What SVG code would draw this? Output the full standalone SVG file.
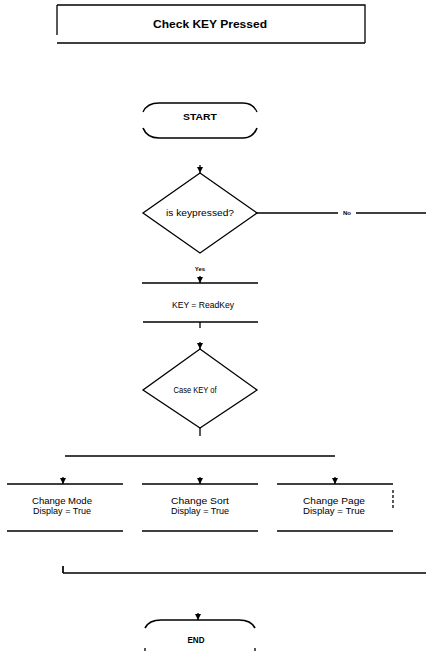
<svg xmlns="http://www.w3.org/2000/svg" width="426" height="651" viewBox="0 0 426 651">
<style>
  .ln{stroke:#000;stroke-width:1.3;fill:none}
  .lb{stroke:#000;stroke-width:1.7;fill:none}
  .t{font-family:"Liberation Sans",Arial,sans-serif;font-size:9px;fill:#000;text-anchor:middle}
  .tb{font-family:"Liberation Sans",Arial,sans-serif;font-weight:bold;fill:#000;text-anchor:middle}
  .s{font-family:"Liberation Sans",Arial,sans-serif;font-size:6px;font-weight:bold;fill:#000;text-anchor:middle}
</style>
<defs>
  <marker id="ah" viewBox="0 0 6 6" refX="6" refY="3" markerWidth="6" markerHeight="6" markerUnits="userSpaceOnUse" orient="auto">
    <path d="M0,0 L6,3 L0,6 Z" fill="#000"/>
  </marker>
</defs>
<rect width="426" height="651" fill="#fff"/>
<g id="title">
  <path class="ln" d="M57,5 L365,5 L365,43 M57,43 L365,43 M57,5 L57,35"/>
  <text class="tb" x="210" y="28" font-size="11" textLength="114" lengthAdjust="spacingAndGlyphs">Check KEY Pressed</text>
</g>
<g id="start">
  <path class="ln" d="M143,112 Q147,103 159,103 L243,103 Q253,103 257,112"/>
  <path class="lb" d="M143,128 Q147,138 159,138 L243,138 Q253,138 257,128"/>
  <text class="tb" x="200" y="120" font-size="9.5" textLength="34" lengthAdjust="spacingAndGlyphs">START</text>
</g>
<g id="decision1">
  <path class="ln" d="M200,173 L257,213 L200,253 L143,213 Z"/>
  <text class="t" x="200" y="216" textLength="68" lengthAdjust="spacingAndGlyphs">is keypressed?</text>
</g>
<g id="readkey">
  <path class="ln" d="M142,283 L258,283"/>
  <path class="lb" d="M143,322 L258,322"/>
  <text class="t" x="203" y="308" font-size="8" textLength="62" lengthAdjust="spacingAndGlyphs">KEY = ReadKey</text>
</g>
<g id="decision2">
  <path class="ln" d="M200,349 L257,390 L200,428 L143,390 Z"/>
  <text class="t" x="195" y="393" font-size="8" textLength="43" lengthAdjust="spacingAndGlyphs">Case KEY of</text>
</g>
<g id="mode">
  <path class="ln" d="M7,484 L123,484"/>
  <path class="lb" d="M7,531 L123,531"/>
  <text class="t" x="62" y="504" textLength="60" lengthAdjust="spacingAndGlyphs">Change Mode</text>
  <text class="t" x="62" y="514" textLength="58" lengthAdjust="spacingAndGlyphs">Display = True</text>
</g>
<g id="sort">
  <path class="ln" d="M142,484 L258,484"/>
  <path class="lb" d="M142,531 L258,531"/>
  <text class="t" x="200" y="504" textLength="58" lengthAdjust="spacingAndGlyphs">Change Sort</text>
  <text class="t" x="200" y="514" textLength="58" lengthAdjust="spacingAndGlyphs">Display = True</text>
</g>
<g id="page">
  <path class="ln" d="M277,484 L393,484"/>
  <path class="lb" d="M277,531 L393,531"/>
  <path class="ln" d="M393,490 L393,508" stroke-dasharray="3,2"/>
  <text class="t" x="334" y="504" textLength="62" lengthAdjust="spacingAndGlyphs">Change Page</text>
  <text class="t" x="334" y="514" textLength="62" lengthAdjust="spacingAndGlyphs">Display = True</text>
</g>
<g id="end">
  <path class="lb" d="M145,628 Q149,620 161,620 L239,620 Q251,620 255,628"/>
  <path class="ln" d="M145,651 L145,648 M255,651 L255,648"/>
  <text class="tb" x="196" y="643" font-size="8.5" textLength="17" lengthAdjust="spacingAndGlyphs">END</text>
</g>
<g id="connectors">
  <path class="ln" d="M200,165 L200,173" marker-end="url(#ah)"/>
  <path class="ln" d="M257,213 L338,213 M356,213 L426,213"/>
  <text class="s" x="347" y="215">No</text>
  <text class="s" x="200" y="271">Yes</text>
  <path class="ln" d="M200,276 L200,283" marker-end="url(#ah)"/>
  <path class="ln" d="M200,322 L200,328"/>
  <path class="ln" d="M200,342 L200,349" marker-end="url(#ah)"/>
  <path class="ln" d="M200,428 L200,436"/>
  <path class="ln" d="M65,456 L335,456"/>
  <path class="ln" d="M63,477 L63,484" marker-end="url(#ah)"/>
  <path class="ln" d="M200,477 L200,484" marker-end="url(#ah)"/>
  <path class="ln" d="M335,477 L335,484" marker-end="url(#ah)"/>
  <path class="lb" d="M63,573 L426,573 M63,566 L63,573"/>
  <path class="ln" d="M198,613 L198,620" marker-end="url(#ah)"/>
</g>
</svg>
